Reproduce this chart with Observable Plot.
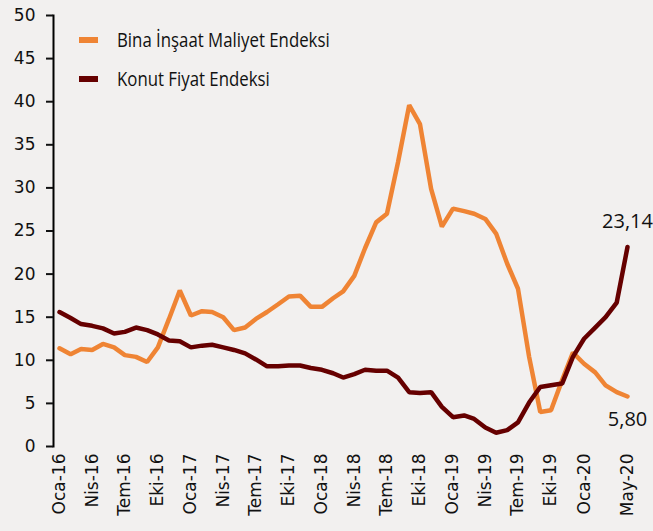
<!DOCTYPE html>
<html><head><meta charset="utf-8">
<script src="https://cdn.jsdelivr.net/npm/d3@7"></script>
<script src="https://cdn.jsdelivr.net/npm/@observablehq/plot@0.6"></script>
<style>
body{margin:0;background:#f2f0ef;}
#wrap{position:relative;width:653px;height:531px;background:#f2f0ef;}
.legend{position:absolute;left:79px;font-family:"Open Sans";font-size:20px;color:#111;display:flex;align-items:center;height:24px;line-height:24px;white-space:nowrap;}
.sw{width:19px;height:6px;margin-right:19px;flex:none;}
.lt{display:inline-block;transform:scaleX(0.84);transform-origin:left center;}
</style></head><body>
<div id="wrap"></div>
<script>
const months = d3.utcMonth.range(new Date(Date.UTC(2016,0,1)), new Date(Date.UTC(2020,5,1)));
const seriesNames = ["Bina İnşaat Maliyet Endeksi", "Konut Fiyat Endeksi"];
const seriesColors = ["#ef8434", "#660000"];
const insaat = [11.4,10.7,11.3,11.2,11.9,11.5,10.6,10.4,9.8,11.5,14.8,18.1,
  15.2,15.7,15.6,15.0,13.5,13.8,14.8,15.6,16.5,17.4,17.5,16.2,
  16.2,17.2,18.0,19.8,23.0,26.0,27.0,33.0,39.6,37.4,29.9,25.5,
  27.6,27.3,27.0,26.4,24.7,21.2,18.3,10.4,4.0,4.2,7.7,10.9,
  9.6,8.6,7.1,6.3,5.80];
const konut = [15.6,14.9,14.2,14.0,13.7,13.1,13.3,13.8,13.5,13.0,12.3,12.2,
  11.5,11.7,11.8,11.5,11.2,10.8,10.1,9.3,9.3,9.4,9.4,9.1,
  8.9,8.5,8.0,8.4,8.9,8.8,8.8,8.0,6.3,6.2,6.3,4.6,
  3.4,3.6,3.2,2.2,1.6,1.9,2.8,5.1,6.9,7.1,7.3,10.4,
  12.5,13.8,15.0,16.7,23.14];
const tickLabels = ["Oca-16","Nis-16","Tem-16","Eki-16","Oca-17","Nis-17","Tem-17","Eki-17",
  "Oca-18","Nis-18","Tem-18","Eki-18","Oca-19","Nis-19","Tem-19","Eki-19","Oca-20","May-20"];
const tickIndex = [0,3,6,9,12,15,18,21,24,27,30,33,36,39,42,45,48,52];
const yTicks = [0,5,10,15,20,25,30,35,40,45,50];

const tickDates = tickIndex.map(i => months[i]);
const labelOf = new Map(tickDates.map((d,k) => [+d, tickLabels[k]]));
const rowsA = months.map((d,i) => ({date:d, v:insaat[i]}));
const rowsB = months.map((d,i) => ({date:d, v:konut[i]}));
const fmt = v => v.toFixed(2).replace(".", ",");

const chart = Plot.plot({
  width:653, height:531,
  marginLeft:53, marginRight:26, marginTop:15, marginBottom:85,
  style:{background:"transparent", fontFamily:"DejaVu Sans", color:"#111", overflow:"visible"},
  x:{type:"utc", domain:[months[0], months[months.length-1]], insetLeft:6},
  y:{domain:[0,50]},
  marks:[
    Plot.frame({anchor:"left", stroke:"#000", strokeWidth:2}),
    Plot.axisY({ticks:yTicks, tickSize:7, tickPadding:11, fontSize:17, strokeWidth:2, tickFormat:d=>d, label:null}),
    Plot.axisX({ticks:tickDates, tickFormat:d=>labelOf.get(+d), tickRotate:-90, tickSize:0, tickPadding:7, fontSize:17, label:null, style:{letterSpacing:"1.5px"}}),
    Plot.line(rowsA, {x:"date", y:"v", stroke:seriesColors[0], strokeWidth:4.5, strokeLinejoin:"miter"}),
    Plot.line(rowsB, {x:"date", y:"v", stroke:seriesColors[1], strokeWidth:4.5, strokeLinejoin:"miter"}),
    Plot.text([rowsB[rowsB.length-1]], {x:"date", y:"v", text:d=>fmt(d.v), dy:-25, fontSize:20, fontFamily:"Open Sans", fill:"#111"}),
    Plot.text([rowsA[rowsA.length-1]], {x:"date", y:"v", text:d=>fmt(d.v), dy:23, fontSize:20, fontFamily:"Open Sans", fill:"#111"})
  ]
});
const wrap = document.getElementById("wrap");
wrap.appendChild(chart);
chart.style.position = "absolute"; chart.style.left = "0"; chart.style.top = "0";
const legendTops = [28, 67];
seriesNames.forEach((n,k) => {
  const el = document.createElement("div");
  el.className = "legend";
  el.style.top = legendTops[k] + "px";
  el.innerHTML = `<span class="sw" style="background:${seriesColors[k]}"></span><span class="lt">${n}</span>`;
  wrap.appendChild(el);
});
</script>
</body></html>
